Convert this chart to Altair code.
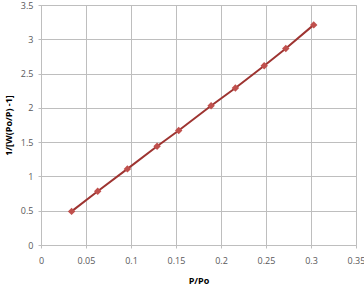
import altair as alt
import pandas as pd

p_po = [0.034, 0.063, 0.096, 0.129, 0.153, 0.189, 0.216, 0.248, 0.272, 0.303]
inv_w = [0.49, 0.785, 1.11, 1.44, 1.67, 2.03, 2.29, 2.615, 2.865, 3.21]

df = pd.DataFrame({"x": p_po, "y": inv_w})

font = "Open Sans"
xs = alt.Scale(domain=[0, 0.35], nice=False, zero=False)
ys = alt.Scale(domain=[0, 3.5], nice=False, zero=False)

xaxis = alt.Axis(values=[0, 0.05, 0.1, 0.15, 0.2, 0.25, 0.3, 0.35], format="~g",
                 title="P/Po", titleFont=font, titleFontSize=9, titleFontWeight="bold",
                 titleColor="#000000", titlePadding=11,
                 labelFont=font, labelFontSize=9, labelColor="#595959", labelPadding=8,
                 tickSize=3, tickColor="#BEBEBE", domainColor="#BEBEBE",
                 gridColor="#BEBEBE", labelFlush=False, labelOverlap=False)
yaxis = alt.Axis(values=[0, 0.5, 1, 1.5, 2, 2.5, 3, 3.5], format="~g",
                 title="1/[W(Po/P) -1]", titleFont=font, titleFontSize=9, titleFontWeight="bold",
                 titleColor="#000000", titlePadding=7,
                 labelFont=font, labelFontSize=9, labelColor="#595959", labelPadding=5,
                 tickSize=3, tickColor="#BEBEBE", domainColor="#BEBEBE",
                 gridColor="#BEBEBE", labelFlush=False, labelOverlap=False)

base = alt.Chart(df).encode(
    x=alt.X("x:Q", scale=xs, axis=xaxis),
    y=alt.Y("y:Q", scale=ys, axis=yaxis),
)
line = base.mark_line(color="#9E3431", strokeWidth=2)
pts = base.mark_point(shape="diamond", filled=True, color="#C0504D", size=55, opacity=1)

chart = (line + pts).properties(
    width=315, height=240,
    autosize=alt.AutoSizeParams(type="none"),
    padding={"left": 41, "top": 5, "right": 8, "bottom": 47},
    background="white",
).configure_view(stroke="#BEBEBE")

chart.save("out.html", embed_options={"renderer": "svg", "actions": False})
